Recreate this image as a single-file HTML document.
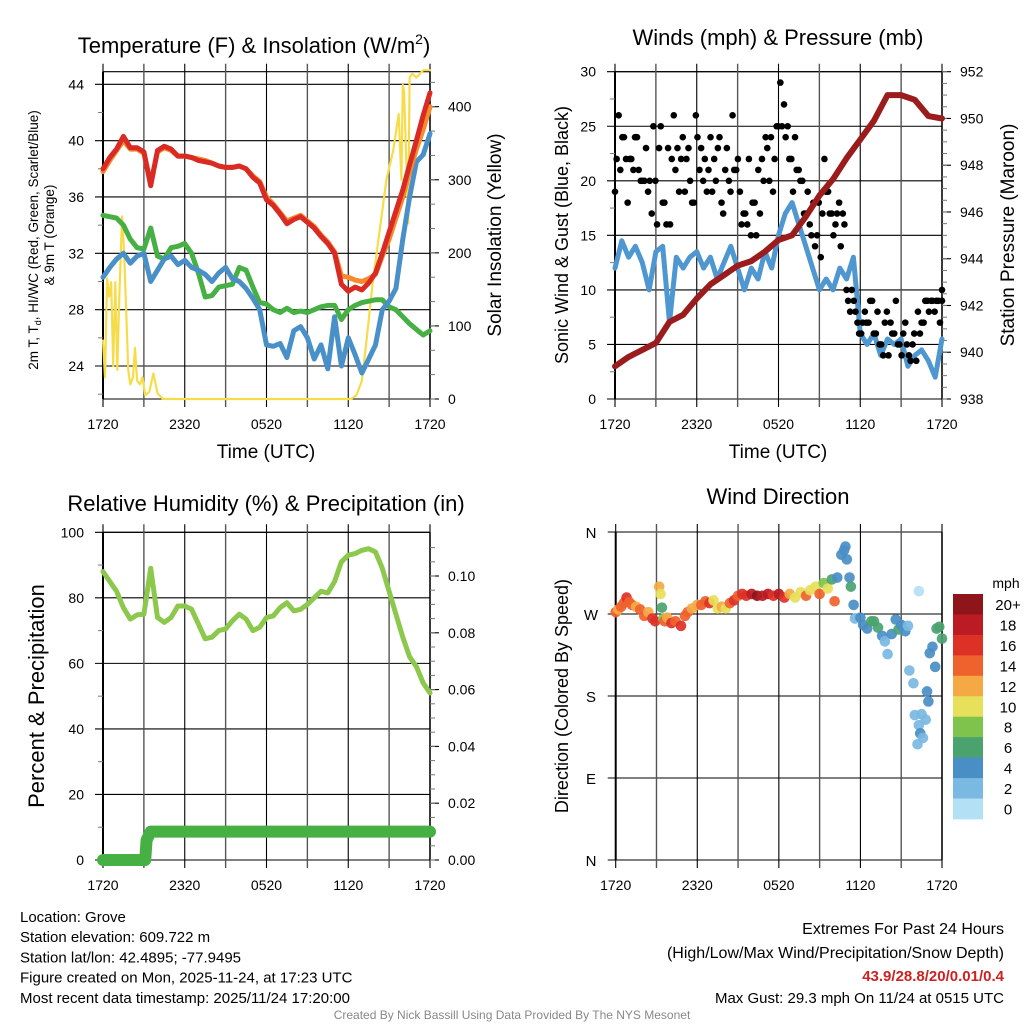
<!DOCTYPE html>
<html><head><meta charset="utf-8"><style>
html,body{margin:0;padding:0;background:#fff;}
svg{display:block;font-family:"Liberation Sans",sans-serif;}
</style></head><body>
<svg id="fig" width="1024" height="1024" viewBox="0 0 1024 1024"></svg>
<script>
// ---------------- DATA ----------------
const timeLabels = ["1720","2320","0520","1120","1720"];
const tempTicks = [24,28,32,36,40,44];
const solarTicks = [0,100,200,300,400];
const windTicks = [0,5,10,15,20,25,30];
const presTicks = [938,940,942,944,946,948,950,952];
const rhTicks = [0,20,40,60,80,100];
const precipTicks = [0,0.02,0.04,0.06,0.08,0.10];
const dirTicks = ["N","E","S","W","N"];
const cbarLabels = ["20+","18","16","14","12","10","8","6","4","2","0"];
const cbarColors = ["#8e1519","#bb1b23","#dd3127","#ef622e","#f5a945","#e6e05a","#7fc24c","#4aa36f","#4a8ec6","#7ab9e2","#b3e0f5"];

const tempRed = [38.0,38.8,39.4,40.3,39.5,39.5,39.2,36.8,39.3,39.6,39.4,38.9,38.9,38.8,38.6,38.5,38.4,38.2,38.1,38.1,38.2,38.0,37.4,37.0,35.8,35.4,34.8,34.1,34.4,34.6,34.2,33.8,33.2,32.7,32.0,29.8,29.3,29.6,29.4,29.9,30.6,32.0,33.5,35.0,36.5,38.3,40.0,41.8,43.4];
const tempOrange = [37.8,38.6,39.3,40.0,39.4,39.4,39.1,37.0,39.2,39.5,39.3,38.9,38.9,38.8,38.7,38.6,38.4,38.2,38.1,38.1,38.2,38.0,37.5,37.1,36.0,35.5,34.9,34.3,34.5,34.7,34.3,33.9,33.3,32.8,32.1,30.4,30.3,30.1,30.0,30.2,30.5,31.8,33.0,34.5,36.0,37.8,39.4,40.8,42.4];
const tempGreen = [34.7,34.6,34.5,34.0,33.0,32.4,32.3,33.8,31.8,31.6,32.4,32.5,32.7,32.0,30.6,28.9,29.0,29.6,29.7,29.8,31.0,30.8,29.6,28.5,28.4,28.0,27.8,28.1,27.8,27.9,27.8,28.0,28.2,28.3,28.3,27.3,28.0,28.3,28.5,28.6,28.7,28.7,28.2,28.0,27.5,27.0,26.6,26.2,26.5];
const tempBlue = [30.3,31.0,31.6,32.0,31.3,31.8,32.0,30.0,30.8,31.6,31.8,31.2,31.5,31.0,30.8,30.5,30.0,30.6,31.0,30.2,30.0,29.5,28.8,28.0,25.5,25.4,25.6,24.6,26.5,26.8,26.0,24.5,25.5,23.8,27.5,24.0,26.0,24.8,23.5,24.5,25.5,28.0,28.6,29.5,33.0,36.0,38.5,39.0,40.5];
const solarHours = [0,0.15,0.3,0.45,0.6,0.75,0.9,1.05,1.2,1.4,1.55,1.7,1.85,2.0,2.2,2.35,2.5,2.7,2.9,3.1,3.4,3.7,4.0,4.4,5,10,15,18.2,18.6,19.0,19.4,19.8,20.3,20.8,21.3,21.7,21.9,22.0,22.1,22.25,22.4,22.5,22.7,23.0,23.5,24];
const solarVals = [80,30,165,140,160,45,160,40,140,250,200,120,40,20,30,70,25,20,30,5,10,35,8,0,0,0,0,0,5,25,90,160,230,300,340,390,300,430,420,330,240,440,445,440,450,450];

const windSpeed = [12,14.5,13,14,12.5,10,13.5,14,7,13,12,13,13.5,12,13,11,12.5,14,12,10,12,11,13.5,12,15,17,18,16,14,12,10,11,10,12,11,13,6,5,6,4,5.5,5,5.5,3,4,4.5,3.5,2,5.5];
const windGust = [19,26,24,22,22,21,24,20,20,19,17,20,23,18,16,16,26,23,22,19,23,18,26,21,20,19,24,22,23,18,21,20,26,21,19,17,16,15,18,21,22,24,20,19,25,29,27,25,22,24,21,20,17,16,18,15,13,22,19,17,16,18,17,10,8,9,7,6,8,7,9,6,5,4,8,7,6,5,4,7,4,5,3.5,6,7,9,9,8,9,10];
const windGust2 = [22,21,24,18,22,24,21,20,23,20,25,16,25,18,23,22,21,19,24,22,20,18,24,23,22,21,19,20,24,17,23,19,21,22,16,17,22,18,15,17,20,23,24,22,25,25,24,22,19,21,20,17,19,15,14,18,17,19,17,15,17,14,16,9,10,8,6,7,7,9,6,8,5,7,4,6,9,5,6,5,3.5,6,8,7,9,8,9,9,7,9];
const pressure = [939.4,939.8,940.1,940.4,941.3,941.6,942.3,942.9,943.3,943.7,943.9,944.3,944.8,945.0,945.8,946.7,947.4,948.3,949.1,949.9,951.0,951.0,950.8,950.1,950.0];

const rh = [88,85,82,77,73.5,74.8,75,89,74,72.5,74,77.5,77.5,76.5,72,67.5,68,70,70.5,73,75,73.5,70,71,74,74.5,77,78.5,76,76.5,78,80,82,81.5,85,91,93,93.5,94.5,95,94,89,82,75,68,62,59,54,51];
const precipHours = [0,3.1,3.2,3.4,3.5,24];
const precipVals = [0,0,0.007,0.009,0.01,0.01];

const dirHours = [0,0.2,0.4,0.6,0.8,1.0,1.2,1.5,1.8,2.1,2.4,2.7,2.9,3.2,3.3,3.4,3.5,3.6,3.8,4.1,4.4,4.8,5.1,5.3,5.6,6.0,6.3,6.6,6.9,7.2,7.5,7.8,8.1,8.4,8.7,9.0,9.3,9.6,10.0,10.4,10.8,11.2,11.6,12.0,12.4,12.8,13.2,13.6,14.0,14.3,14.7,15.0,15.3,15.6,15.9,16.1,16.3,16.6,16.8,16.9,17.0,17.2,17.3,17.5,17.6,18.0,18.2,18.5,18.8,19.0,19.3,19.6,19.8,20.0,20.3,20.6,20.8,21.0,21.3,21.5,21.6,21.9,22.0,22.2,22.3,22.3,22.4,22.5,22.6,22.8,22.9,23.0,23.1,23.3,23.5,23.6,23.8,24.0];
const dirDeg = [272,275,278,282,288,283,280,278,275,268,272,265,262,300,292,277,265,262,266,260,262,257,268,272,276,280,280,284,282,285,276,278,276,282,285,290,292,290,292,290,290,292,290,292,288,292,288,294,290,296,300,292,304,298,308,284,310,335,340,344,330,310,300,280,265,266,258,254,262,262,255,246,240,226,248,264,253,258,251,257,208,194,159,127,148,295,139,160,134,154,185,174,227,234,212,254,256,243];
const dirSpd = [14,12,14,14,15,14,14,12,14,14,12,16,16,12,10,6,8,14,12,16,14,16,14,14,12,12,14,14,16,10,10,12,10,14,16,14,16,16,18,20,18,18,16,18,16,12,10,10,14,10,10,14,8,10,6,14,4,4,4,4,4,4,6,4,2,4,4,4,6,6,6,4,2,2,4,4,6,4,4,2,2,2,2,2,2,0,4,2,2,2,4,4,4,4,4,6,6,6];

// ---------------- HELPERS ----------------
const NS = "http://www.w3.org/2000/svg";
const svg = document.getElementById("fig");
function el(tag, attrs, parent) {
  const e = document.createElementNS(NS, tag);
  for (const k in attrs) e.setAttribute(k, attrs[k]);
  (parent || svg).appendChild(e);
  return e;
}
function txt(s, x, y, size, anchor, parent, rot, extra) {
  const t = el("text", {x: x, y: y, "font-size": size, "text-anchor": anchor || "middle", fill: "#000"}, parent);
  if (rot) t.setAttribute("transform", "rotate(" + rot + " " + x + " " + y + ")");
  if (extra) for (const k in extra) t.setAttribute(k, extra[k]);
  t.textContent = s;
  return t;
}
function scale(d0, d1, r0, r1) { return v => r0 + (v - d0) / (d1 - d0) * (r1 - r0); }

function panelFrame(g, L, R, T, B, yTicksPx, rightTicksPx, minorLeft, minorRight) {
  yTicksPx.forEach(y => el("line", {x1: L - 8, x2: R, y1: y, y2: y, stroke: "#000", "stroke-width": 1.1}, g));
  el("line", {x1: L, x2: R, y1: T, y2: T, stroke: "#000", "stroke-width": 1.1}, g);
  el("line", {x1: L, x2: R, y1: B, y2: B, stroke: "#000", "stroke-width": 1.1}, g);
  for (let i = 0; i <= 8; i++) {
    const x = L + (R - L) * i / 8;
    el("line", {x1: x, x2: x, y1: T - 8, y2: B + 8, stroke: i % 2 ? "#555" : "#000", "stroke-width": i % 2 ? 1.4 : 1.1}, g);
  }
  el("line", {x1: L, x2: L, y1: T, y2: B, stroke: "#000", "stroke-width": 2}, g);
  el("line", {x1: R, x2: R, y1: T, y2: B, stroke: "#000", "stroke-width": 1.5}, g);
  (minorLeft || []).forEach(y => el("line", {x1: L - 5, x2: L, y1: y, y2: y, stroke: "#777", "stroke-width": 1}, g));
  (rightTicksPx || []).forEach(y => el("line", {x1: R, x2: R + 9, y1: y, y2: y, stroke: "#000", "stroke-width": 1.1}, g));
  (minorRight || []).forEach(y => el("line", {x1: R, x2: R + 5, y1: y, y2: y, stroke: "#777", "stroke-width": 1}, g));
}
function xLabels(g, L, R, y) {
  timeLabels.forEach((s, i) => {
    const t = txt(s, L + (R - L) * i / 4, y, 14, "middle", g);
    
    
  });
}
function polyline(g, xs, ys, color, w, name) {
  const p = el("polyline", {points: xs.map((x, i) => x.toFixed(1) + "," + ys[i].toFixed(1)).join(" "), fill: "none", stroke: color, "stroke-width": w, "stroke-linejoin": "round", "stroke-linecap": "round"}, g);
  
  
  return p;
}
const halfHours = arr => arr.map((v, i) => i * 24 / (arr.length - 1));

// ---------------- PANEL 1 ----------------
(function(){
  const L = 103, R = 430, T = 71.7, B = 399;
  const g = el("g", {});
  
  
  const xs = scale(0, 24, L, R), ys = scale(44, 24, 84.3, 366), ysol = scale(0, 400, B, 106.7);
  const minorL = [22,26,30,34,38,42].map(ys);
  const minorR = [];
  for (let v = 0; v <= 450; v += 33.33) minorR.push(ysol(v));
  panelFrame(g, L, R, T, B, tempTicks.map(ys), solarTicks.map(ysol), minorL, minorR);
  tempTicks.forEach(v => { const t = txt(String(v), 84, ys(v) + 5, 14, "end", g);   });
  solarTicks.forEach(v => { const t = txt(String(v), 448, ysol(v) + 5, 14, "start", g);   });
  xLabels(g, L, R, 429);
  const hh = halfHours(tempRed);
  polyline(g, solarHours.map(xs), solarVals.map(ysol), "#f7dc4a", 2.2, "solar-insolation-line");
  polyline(g, hh.map(xs), tempGreen.map(ys), "#46b044", 5, "dewpoint-line");
  polyline(g, hh.map(xs), tempBlue.map(ys), "#4a90c8", 5, "windchill-line");
  polyline(g, hh.map(xs), tempOrange.map(ys), "#f58a2e", 5, "temp-9m-line");
  polyline(g, hh.map(xs), tempRed.map(ys), "#d92a24", 5, "temp-2m-line");
  const t1 = txt("Temperature (F) & Insolation (W/m", 254, 53, 22, "middle", g);
   
  const sup = el("tspan", {"font-size": 14, dy: -9}, t1); sup.textContent = "2";
  const cl = el("tspan", {"font-size": 22, dy: 9}, t1); cl.textContent = ")";
  const a = txt("", 38, 240, 13.5, "middle", g, -90);
   
  const s1 = el("tspan", {}, a); s1.textContent = "2m T, T";
  const s2 = el("tspan", {"font-size": 9, dy: 3}, a); s2.textContent = "d";
  const s3 = el("tspan", {dy: -3}, a); s3.textContent = ", HI/WC (Red, Green, Scarlet/Blue)";
  const a2 = txt("& 9m T (Orange)", 54, 235, 13.5, "middle", g, -90);
   
  const r = txt("Solar Insolation (Yellow)", 501, 235, 19, "middle", g, -90);
   
  const xt = txt("Time (UTC)", 266, 458, 19, "middle", g);
   
})();

// ---------------- PANEL 2 ----------------
(function(){
  const L = 615, R = 942, T = 71.7, B = 399;
  const g = el("g", {});
  
  
  const xs = scale(0, 24, L, R), ys = scale(0, 30, B, T), yp = scale(938, 952, B, T);
  const minorL = [2.5,7.5,12.5,17.5,22.5,27.5].map(ys);
  const minorR = [];
  for (let v = 938; v <= 952; v += 0.5) minorR.push(yp(v));
  panelFrame(g, L, R, T, B, windTicks.map(ys), presTicks.map(yp), minorL, minorR);
  windTicks.forEach(v => { const t = txt(String(v), 596, ys(v) + 5, 14, "end", g);   });
  presTicks.forEach(v => { const t = txt(String(v), 960, yp(v) + 5, 14, "start", g);   });
  xLabels(g, L, R, 429);
  polyline(g, halfHours(windSpeed).map(xs), windSpeed.map(ys), "#4f97d0", 5, "sonic-wind-line");
  const gh = halfHours(windGust);
  windGust.forEach((v, i) => {
    const c = el("circle", {cx: xs(gh[i]), cy: ys(v), r: 3.3, fill: "#000"}, g);
    
    
  });
  const gh2 = halfHours(windGust2);
  windGust2.forEach((v, i) => {
    const c = el("circle", {cx: xs(Math.min(24, gh2[i] + 0.12)), cy: ys(v), r: 3.3, fill: "#000"}, g);
    
    
  });
  polyline(g, halfHours(pressure).map(xs), pressure.map(yp), "#9b1c1c", 6, "station-pressure-line");
  const t1 = txt("Winds (mph) & Pressure (mb)", 778, 45, 22, "middle", g);
   
  const a = txt("Sonic Wind & Gust (Blue, Black)", 568, 235, 18, "middle", g, -90);
   
  const r = txt("Station Pressure (Maroon)", 1014, 235, 19, "middle", g, -90);
   
  const xt = txt("Time (UTC)", 778, 458, 19, "middle", g);
   
})();

// ---------------- PANEL 3 ----------------
(function(){
  const L = 103, R = 430, T = 532.3, B = 860;
  const g = el("g", {});
  
  
  const xs = scale(0, 24, L, R), ys = scale(0, 100, B, T), yp = scale(0, 0.1, B, 576);
  const minorL = [10,30,50,70,90].map(ys);
  const minorR = [];
  for (let v = 0; v <= 0.115; v += 0.005) minorR.push(yp(v));
  panelFrame(g, L, R, T, B, rhTicks.map(ys), precipTicks.map(yp), minorL, minorR);
  rhTicks.forEach(v => { const t = txt(String(v), 84, ys(v) + 5, 14, "end", g);   });
  precipTicks.forEach(v => { const t = txt(v.toFixed(2), 448, yp(v) + 5, 14, "start", g);   });
  xLabels(g, L, R, 890);
  polyline(g, halfHours(rh).map(xs), rh.map(ys), "#8cc84b", 5, "relative-humidity-line");
  polyline(g, precipHours.map(xs), precipVals.map(yp), "#46b044", 12, "precipitation-line");
  const t1 = txt("Relative Humidity (%) & Precipitation (in)", 266, 511, 22, "middle", g);
   
  const a = txt("Percent & Precipitation", 44, 696, 22, "middle", g, -90);
   
})();

// ---------------- PANEL 4 ----------------
(function(){
  const L = 615.7, R = 942, T = 532, B = 860;
  const g = el("g", {});
  
  
  const xs = scale(0, 24, L, R), yd = scale(0, 360, B, T);
  panelFrame(g, L, R, T, B, [0,90,180,270,360].map(yd), [], [], []);
  dirTicks.forEach((s, i) => { const t = txt(s, 591, yd(i * 90) + 6, 15, "middle", g);   });
  xLabels(g, L, R, 890);
  dirDeg.forEach((d, i) => {
    const idx = Math.min(10, Math.round(dirSpd[i] / 2));
    const c = el("circle", {cx: xs(dirHours[i]), cy: yd(d), r: 5.3, fill: cbarColors[10 - idx], "fill-opacity": 0.92}, g);
    
    
  });
  const t1 = txt("Wind Direction", 778, 504, 22, "middle", g);
   
  const a = txt("Direction (Colored By Speed)", 568, 696, 18, "middle", g, -90);
   
  const cb = el("g", {}, g);
  
  
  cbarColors.forEach((c, i) => {
    const r = el("rect", {x: 953, y: 594 + i * 20.45, width: 30, height: 20.9, fill: c}, cb);
    
    
    const t = txt(cbarLabels[i], 1008, 594 + i * 20.45 + 16, 15, "middle", cb);
    
    
  });
  const m = txt("mph", 1006, 588, 14, "middle", cb);
   
})();

// ---------------- FOOTER ----------------
(function(){
  const g = el("g", {});
  
  
  const left = ["Location: Grove","Station elevation: 609.722 m","Station lat/lon: 42.4895; -77.9495","Figure created on Mon, 2025-11-24, at 17:23 UTC","Most recent data timestamp: 2025/11/24 17:20:00"];
  left.forEach((s, i) => { const t = txt(s, 20, 922 + i * 20.2, 15, "start", g);   });
  const r1 = txt("Extremes For Past 24 Hours", 1004, 934, 16, "end", g);  
  const r2 = txt("(High/Low/Max Wind/Precipitation/Snow Depth)", 1004, 958, 16, "end", g);  
  const r3 = txt("43.9/28.8/20/0.01/0.4", 1004, 981, 15, "end", g, 0, {fill: "#cc2222", "font-weight": "bold"});  
  const r4 = txt("Max Gust: 29.3 mph On 11/24 at 0515 UTC", 1004, 1003, 15, "end", g);  
  const f = txt("Created By Nick Bassill Using Data Provided By The NYS Mesonet", 512, 1019, 12, "middle", g, 0, {fill: "#888"});  
})();
</script>
</body></html>
